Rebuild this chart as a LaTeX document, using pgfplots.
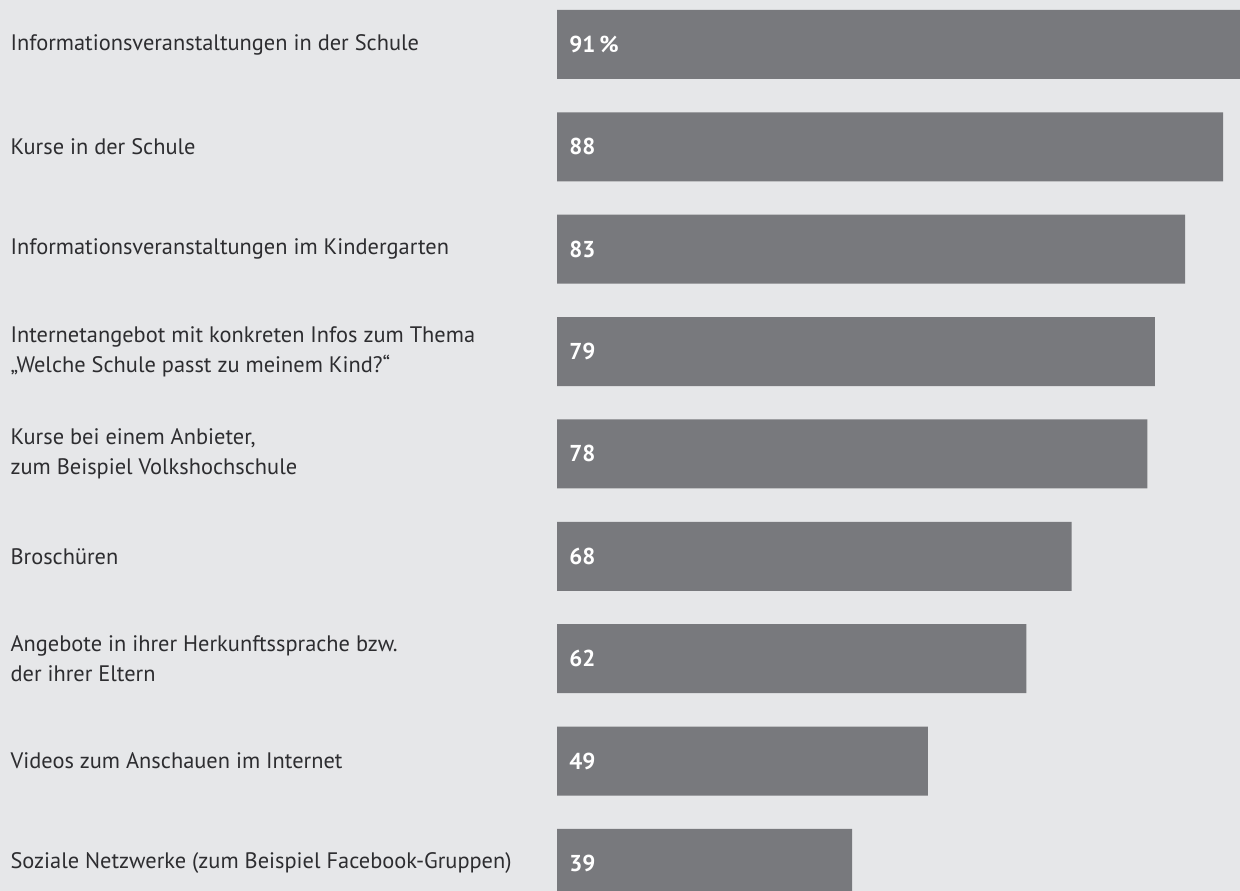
\documentclass[border=0pt]{standalone}
\usepackage{fontspec}
\setmainfont{PT Sans}
\usepackage{pgfplots}
\pgfplotsset{compat=1.18}
\definecolor{bgcol}{RGB}{230,231,233}
\definecolor{barcol}{RGB}{120,121,125}
\definecolor{txtcol}{RGB}{45,45,48}
\begin{document}
\begin{tikzpicture}
\begin{axis}[
  scale only axis, width=620pt, height=445.5pt,
  bar width=0.674,
  xmin=-73.58, xmax=90.22,
  ymin=-0.4346, ymax=8.267, y dir=reverse,
  axis background/.style={fill=bgcol},
  axis line style={draw=none},
  xtick=\empty,
  ytick={0,...,8},
  yticklabels={
    {Informationsveranstaltungen in der Schule},
    {Kurse in der Schule},
    {Informationsveranstaltungen im Kindergarten},
    {Internetangebot mit konkreten Infos zum Thema\\„Welche Schule passt zu meinem Kind?“},
    {Kurse bei einem Anbieter,\\zum Beispiel Volkshochschule},
    {Broschüren},
    {Angebote in ihrer Herkunftssprache bzw.\\der ihrer Eltern},
    {Videos zum Anschauen im Internet},
    {Soziale Netzwerke (zum Beispiel Facebook-Gruppen)}},
  major tick length=0pt,
  yticklabel style={anchor=west, align=left, inner sep=0pt, xshift=5pt,
    font=\fontsize{11.2}{15}\selectfont, text=txtcol},
]
\addplot[xbar, draw=none, fill=barcol] coordinates {
  (91,0) (88,1) (83,2) (79,3) (78,4) (68,5) (62,6) (49,7) (39,8)};
\addplot[draw=none, mark=none, nodes near coords, point meta=explicit symbolic,
  nodes near coords style={anchor=west, inner sep=0pt, xshift=6pt, text=white,
    font=\fontsize{11.5}{15}\selectfont\bfseries}] coordinates {
  (0,0) [91\,\%] (0,1) [88] (0,2) [83] (0,3) [79] (0,4) [78]
  (0,5) [68] (0,6) [62] (0,7) [49] (0,8) [39]};
\end{axis}
\end{tikzpicture}
\end{document}
